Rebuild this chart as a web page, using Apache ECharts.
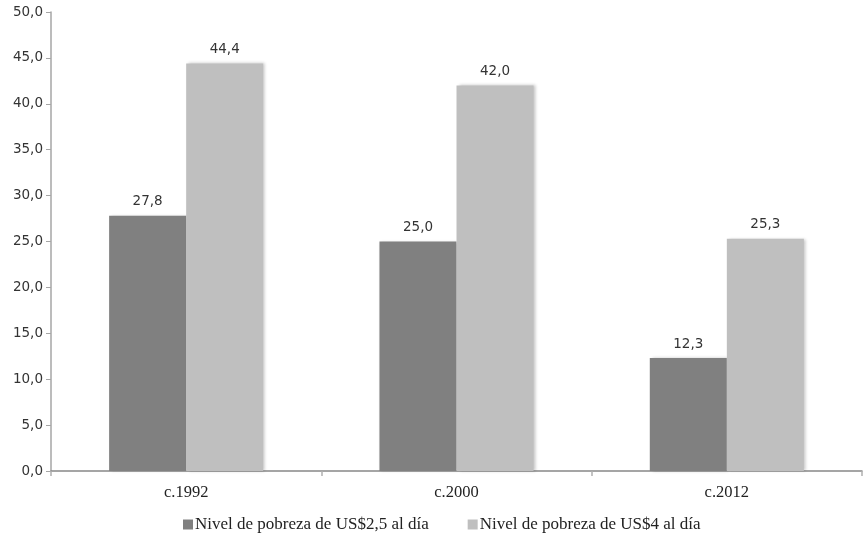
<!DOCTYPE html>
<html>
<head>
<meta charset="utf-8">
<script src="https://cdn.jsdelivr.net/npm/echarts@6/dist/echarts.min.js"></script>
<style>
  html, body { margin: 0; padding: 0; background: #fff; }
  #chart { width: 864px; height: 537px; }
</style>
</head>
<body>
<div id="chart"></div>
<script>
// Poverty rates by period (%)
const categories = ['c.1992', 'c.2000', 'c.2012'];
const seriesNames = ['Nivel de pobreza de US$2,5 al día', 'Nivel de pobreza de US$4 al día'];
const pobreza25 = [27.8, 25.0, 12.3];
const pobreza4 = [44.4, 42.0, 25.3];

const fmt = v => v.toFixed(1).replace('.', ',');
const numFont = 'DejaVu Sans, Verdana, sans-serif';
const textFont = 'Liberation Serif, Times New Roman, serif';

const chart = echarts.init(document.getElementById('chart'));

const barStyle = color => ({
  color: color,
  shadowColor: 'rgba(0,0,0,0.22)',
  shadowBlur: 3,
  shadowOffsetX: 2,
  shadowOffsetY: 0
});

const valueLabel = {
  show: true,
  position: 'top',
  distance: 7,
  fontFamily: numFont,
  fontSize: 13.5,
  color: '#333',
  formatter: p => fmt(p.value)
};

chart.setOption({
  animation: false,
  grid: { left: 51, right: 2, top: 12, bottom: 66 },
  legend: {
    bottom: -1,
    left: 178,
    itemWidth: 10,
    itemHeight: 10,
    itemGap: 39,
    icon: 'rect',
    textStyle: { fontFamily: textFont, fontSize: 17, color: '#222', padding: [0, 0, 0, -3] },
    data: seriesNames
  },
  xAxis: {
    type: 'category',
    data: categories,
    axisLine: { lineStyle: { color: '#888888', width: 1.5 } },
    axisTick: { show: true, length: 5, lineStyle: { color: '#b0b0b0', width: 1.5 } },
    axisLabel: { fontFamily: textFont, fontSize: 16.5, color: '#222', margin: 13 }
  },
  yAxis: {
    type: 'value',
    min: 0,
    max: 50,
    interval: 5,
    axisLine: { show: true, lineStyle: { color: '#a6a6a6', width: 1.5 } },
    axisTick: { show: true, length: 5, lineStyle: { color: '#a6a6a6' } },
    splitLine: { show: false },
    axisLabel: { fontFamily: numFont, fontSize: 13.5, color: '#333', margin: 8, formatter: v => fmt(v) }
  },
  series: [
    {
      name: seriesNames[0],
      type: 'bar',
      data: pobreza25,
      barWidth: '28.5%',
      barGap: '0%',
      itemStyle: barStyle('#808080'),
      label: valueLabel
    },
    {
      name: seriesNames[1],
      type: 'bar',
      data: pobreza4,
      barWidth: '28.5%',
      barGap: '0%',
      itemStyle: barStyle('#bfbfbf'),
      label: valueLabel
    }
  ]
});
</script>
</body>
</html>
